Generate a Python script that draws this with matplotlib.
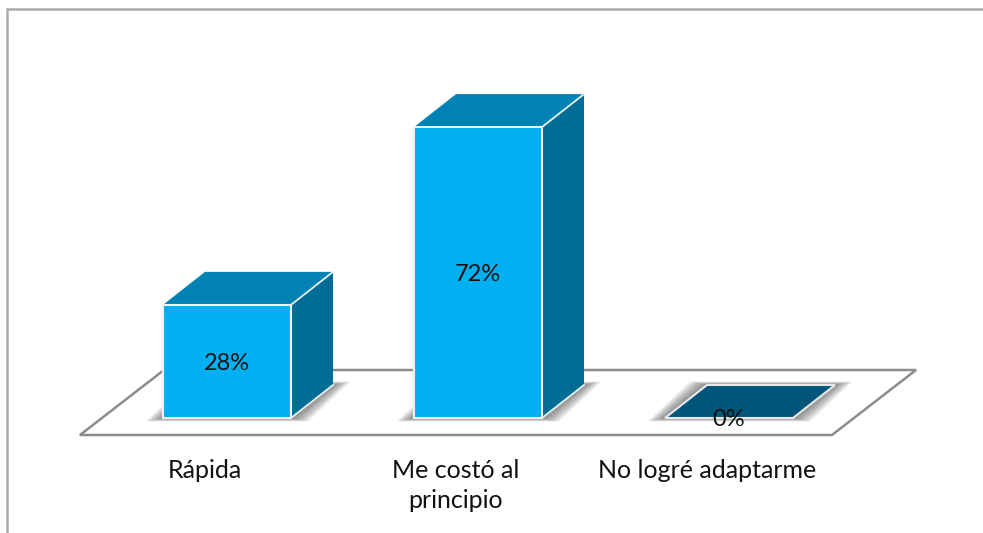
import matplotlib
matplotlib.use("Agg")
import matplotlib.pyplot as plt
from matplotlib.patches import Polygon

plt.rcParams['font.family'] = ['Lato', 'DejaVu Sans']

categories = ["Rápida", "Me costó al\nprincipio", "No logré adaptarme"]
values = [28, 72, 0]
value_labels = ["28%", "72%", "0%"]

front_color = "#00B0F0"
top_color = "#0083B4"
side_color = "#006D96"
empty_color = "#00557B"
floor_color = "#8C8C8C"

W, H = 983, 533
# one category = 251 px, one percent = 4.04 px
px_x = 251.0
px_y = 4.04
x_zero = 227
y_zero = 418

bar_w = 128 / px_x
dx = 42 / px_x
dy = 33 / px_y

fig = plt.figure(figsize=(W / 100, H / 100), dpi=100)
ax = fig.add_axes([0, 0, 1, 1])
ax.set_xlim(-x_zero / px_x, (W - x_zero) / px_x)
ax.set_ylim((y_zero - H) / px_y, y_zero / px_y)
ax.axis("off")

# outer frame, only left and top are visible
ax.plot([7 / W, 7 / W, 1], [0, 1 - 9 / H, 1 - 9 / H], transform=ax.transAxes,
        color="#ABABAB", lw=1.8, solid_joinstyle="miter", zorder=1)

# floor
floor_left = -147 / px_x
floor_right = 605 / px_x
floor_low = -17 / px_y
floor_dx = 84 / px_x
floor_dy = 65 / px_y
ax.add_patch(Polygon([(floor_left, floor_low), (floor_right, floor_low),
                      (floor_right + floor_dx, floor_low + floor_dy),
                      (floor_left + floor_dx, floor_low + floor_dy)],
                     closed=True, facecolor="white", edgecolor=floor_color, lw=1.8, zorder=2))

for i, v in enumerate(values):
    left = i - bar_w / 2
    right = i + bar_w / 2

    # soft shadow round the foot of the bar, stacked thin layers
    for k in range(16, 0, -1):
        ex = k * 1.1 / px_x
        ey = k * 0.22 / px_y
        ax.add_patch(Polygon([(left - ex, -ey), (right + ex, -ey),
                              (right + dx + ex, dy + ey), (left + dx - ex, dy + ey)],
                             closed=True, facecolor="#444444", edgecolor="none",
                             alpha=0.05, zorder=3))

    if v == 0:
        ax.add_patch(Polygon([(left, 0), (right, 0), (right + dx, dy), (left + dx, dy)],
                             closed=True, facecolor=empty_color, edgecolor="#E8E8E8",
                             lw=1.5, zorder=4))
    else:
        ax.add_patch(Polygon([(right, 0), (right + dx, dy), (right + dx, v + dy), (right, v)],
                             closed=True, facecolor=side_color, edgecolor="none", zorder=4))
        ax.add_patch(Polygon([(left, v), (right, v), (right + dx, v + dy), (left + dx, v + dy)],
                             closed=True, facecolor=top_color, edgecolor="none", zorder=4))
        ax.plot([right, right + dx], [v, v + dy], color="#E6F2F7", lw=1.3, zorder=5)
        ax.plot([right, right + dx], [0, dy], color="#E6F2F7", lw=1.3, zorder=5)
        ax.bar(i, v, width=bar_w, color=front_color, edgecolor="#F2F2F2", lw=1.5, zorder=5)

    ax.text(i, v / 2 - 2 / px_y, value_labels[i], ha="center", va="center", fontsize=17,
            color="#111111", zorder=6)

    ax.text(i - 22 / px_x, -41 / px_y, categories[i], ha="center", va="top", fontsize=18,
            color="#111111", linespacing=1.36, zorder=6)

fig.savefig("out.png", dpi=100, facecolor="white")
